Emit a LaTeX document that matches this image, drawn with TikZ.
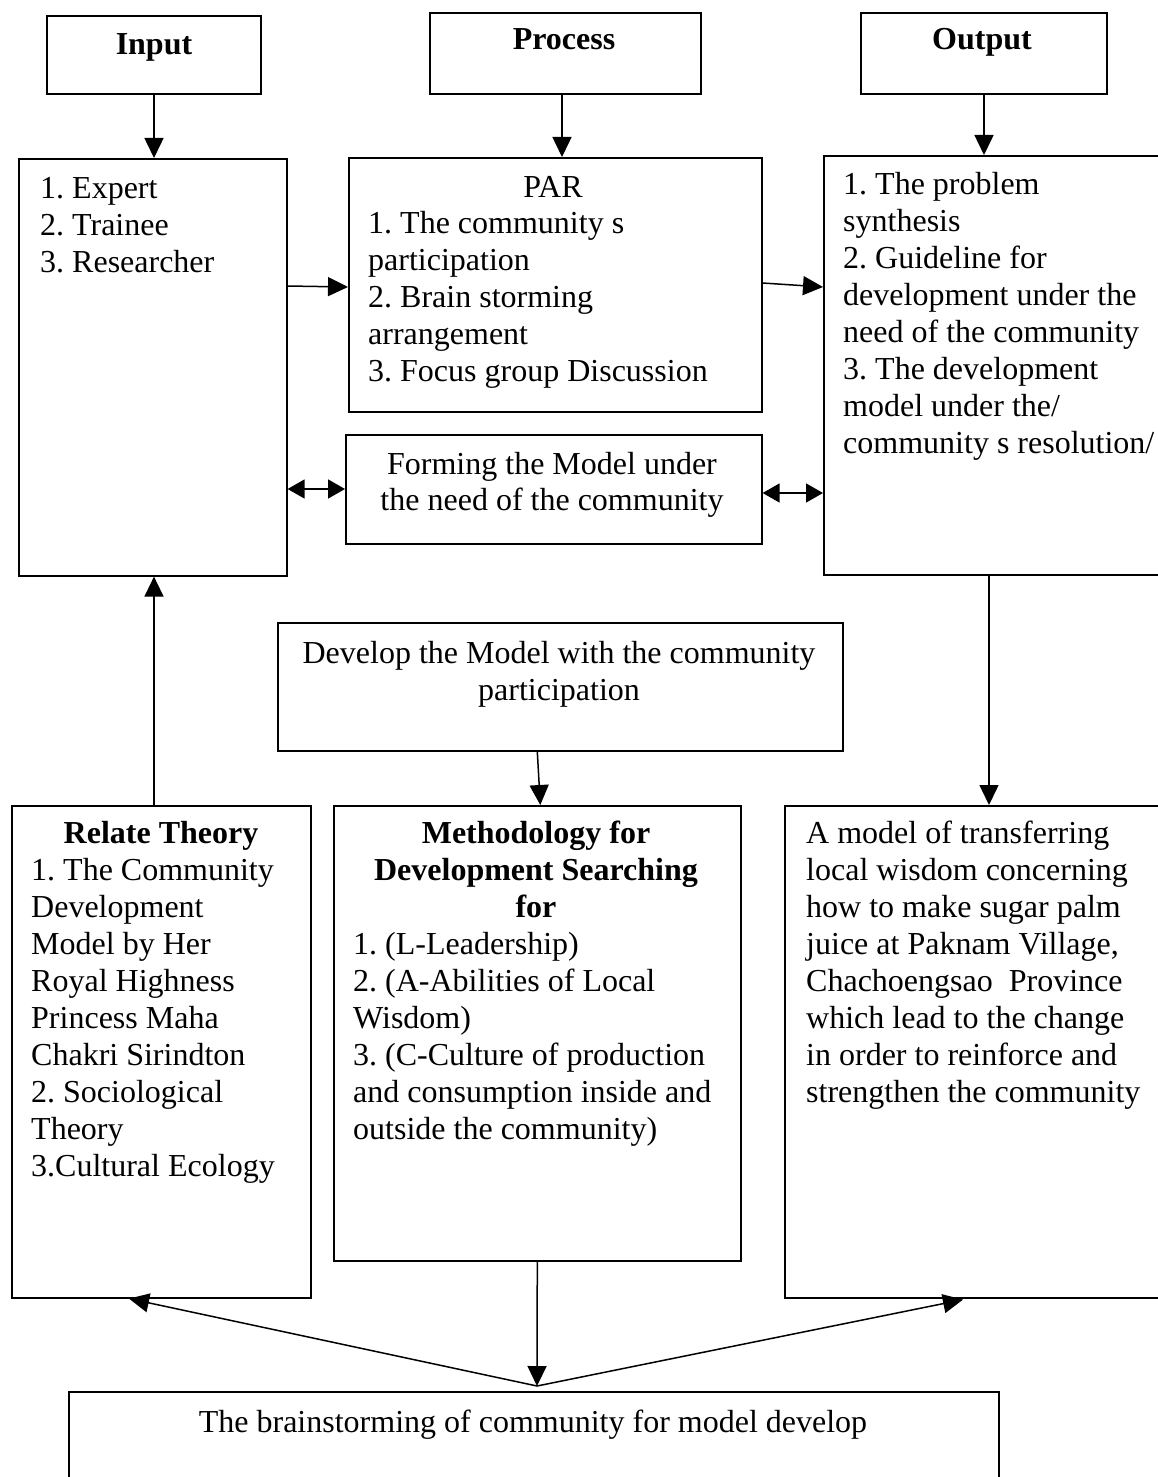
\documentclass[tikz,border=0pt]{standalone}
\usepackage{fontspec}
\setmainfont{Liberation Serif}
\usetikzlibrary{arrows.meta}
\begin{document}
\frenchspacing
\begin{tikzpicture}[x=1pt,y=-1pt,
 box/.style={draw, line width=1.6pt, anchor=north west, inner sep=0pt},
 txt/.style={font=\fontsize{32}{37}\selectfont, inner sep=0pt, align=left, anchor=base west},
 ctxt/.style={font=\fontsize{32}{37}\selectfont, inner sep=0pt, align=center, anchor=base},
 btxt/.style={font=\fontsize{32}{37}\selectfont\bfseries, inner sep=0pt, align=center, anchor=base},
 arr/.style={line width=1.5pt, -{Triangle[length=20pt,width=19pt]}},
 darr/.style={line width=1.5pt, {Triangle[length=17pt,width=19pt]}-{Triangle[length=17pt,width=19pt]}}]
\useasboundingbox (0,0) rectangle (1157,1477);
\fill[white] (0,0) rectangle (1157,1477);

% top boxes
\node[box, minimum width=214pt, minimum height=78pt] (input) at (46,15) {};
\node[box, minimum width=271pt, minimum height=81pt] (process) at (429,12) {};
\node[box, minimum width=246pt, minimum height=81pt] (output) at (860,12) {};
\node[btxt] (tinput) at (154,55) {Input};
\node[btxt] (tprocess) at (564,50) {Process};
\node[btxt] (toutput) at (982,50) {Output};

% middle row
\node[box, minimum width=268pt, minimum height=417pt] (left) at (18,158) {};
\node[box, minimum width=413pt, minimum height=254pt] (par) at (348,157) {};
\node[box, minimum width=416pt, minimum height=109pt] (forming) at (345,434) {};
\node[box, minimum width=360pt, minimum height=419pt] (right) at (823,155) {};

\node[txt] (tleft) at (40,198) {1. Expert};
\node[txt] (tleft2) at (40,235) {2. Trainee};
\node[txt] (tleft3) at (40,272) {3. Researcher};

\node[ctxt] (tpar) at (553,197) {PAR};
\node[txt] (tpar1) at (368,233) {1. The community s};
\node[txt] (tpar2) at (368,270) {participation};
\node[txt] (tpar3) at (368,307) {2. Brain storming};
\node[txt] (tpar4) at (368,344) {arrangement};
\node[txt] (tpar5) at (368,381) {3. Focus group Discussion};

\node[ctxt] (tform1) at (552,474) {Forming the Model under};
\node[ctxt] (tform2) at (552,510) {the need of the community};

\node[txt] (tr1) at (843,194) {1. The problem};
\node[txt] (tr2) at (843,231) {synthesis};
\node[txt] (tr3) at (843,268) {2. Guideline for};
\node[txt] (tr4) at (843,305) {development under the};
\node[txt] (tr5) at (843,342) {need of the community};
\node[txt] (tr6) at (843,379) {3. The development};
\node[txt] (tr7) at (843,416) {model under the/};
\node[txt] (tr8) at (843,453) {community s resolution/};

% develop box
\node[box, minimum width=565pt, minimum height=128pt] (develop) at (277,622) {};
\node[ctxt] (tdev1) at (559,663) {Develop the Model with the community};
\node[ctxt] (tdev2) at (559,700) {participation};

% bottom row
\node[box, minimum width=299pt, minimum height=492pt] (relate) at (11,805) {};
\node[box, minimum width=407pt, minimum height=455pt] (meth) at (333,805) {};
\node[box, minimum width=400pt, minimum height=492pt] (rbot) at (784,805) {};

\node[btxt] (trel0) at (161,843) {Relate Theory};
\node[txt] (trel1) at (31,880) {1. The Community};
\node[txt] (trel2) at (31,917) {Development};
\node[txt] (trel3) at (31,954) {Model by Her};
\node[txt] (trel4) at (31,991) {Royal Highness};
\node[txt] (trel5) at (31,1028) {Princess Maha};
\node[txt] (trel6) at (31,1065) {Chakri Sirindton};
\node[txt] (trel7) at (31,1102) {2. Sociological};
\node[txt] (trel8) at (31,1139) {Theory};
\node[txt] (trel9) at (31,1176) {3.Cultural Ecology};

\node[btxt] (tm0) at (536,843) {Methodology for};
\node[btxt] (tm1) at (536,880) {Development Searching};
\node[btxt] (tm2) at (536,917) {for};
\node[txt] (tm3) at (353,954) {1. (L-Leadership)};
\node[txt] (tm4) at (353,991) {2. (A-Abilities of Local};
\node[txt] (tm5) at (353,1028) {Wisdom)};
\node[txt] (tm6) at (353,1065) {3. (C-Culture of production};
\node[txt] (tm7) at (353,1102) {and consumption inside and};
\node[txt] (tm8) at (353,1139) {outside the community)};

\node[txt] (tb1) at (806,843) {A model of transferring};
\node[txt] (tb2) at (806,880) {local wisdom concerning};
\node[txt] (tb3) at (806,917) {how to make sugar palm};
\node[txt] (tb4) at (806,954) {juice at Paknam Village,};
\node[txt] (tb5) at (806,991) {Chachoengsao\ \ Province};
\node[txt] (tb6) at (806,1028) {which lead to the change};
\node[txt] (tb7) at (806,1065) {in order to reinforce and};
\node[txt] (tb8) at (806,1102) {strengthen the community};

% brainstorm box
\node[box, minimum width=930pt, minimum height=120pt] (brain) at (68,1391) {};
\node[ctxt] (tbrain) at (533,1432) {The brainstorming of community for model develop};

% connectors
\draw[arr] (tinput |- input.south) -- (tinput |- left.north);
\draw[arr] ([xshift=-2pt]tprocess |- process.south) -- ([xshift=-2pt]tprocess |- par.north);
\draw[arr] ([xshift=2pt]toutput |- output.south) -- ([xshift=2pt]toutput |- right.north);

\draw[arr] ([yshift=-128pt]left.north east) -- ([yshift=-130pt]par.north west);
\draw[arr] ([yshift=-126pt]par.north east) -- ([yshift=-132pt]right.north west);

\draw[darr] ([yshift=-55pt]forming.north west -| left.east) -- ([yshift=-55pt]forming.north west);
\draw[darr] ([yshift=-59pt]forming.north east) -- ([yshift=-59pt]forming.north east -| right.west);

\draw[arr] (tinput |- relate.north) -- (tinput |- left.south);
\draw[arr] ([xshift=166pt]right.south west) -- ([xshift=205pt]rbot.north west);
\draw[arr] ([xshift=-23pt]develop.south) -- ([xshift=3pt]meth.north);

\coordinate (apex) at (537,1386);
\draw[arr] (meth.south) -- (apex);
\draw[arr] (apex) -- ([xshift=118pt]relate.south west);
\draw[arr] (apex) -- ([xshift=179pt,yshift=-1pt]rbot.south west);
\end{tikzpicture}
\end{document}
